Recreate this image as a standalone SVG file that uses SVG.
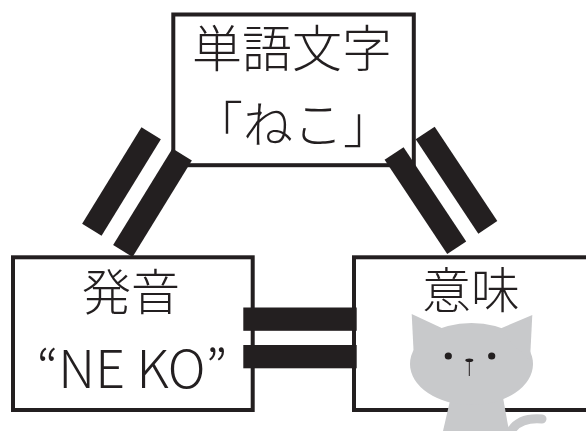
<svg xmlns="http://www.w3.org/2000/svg" width="586" height="431" viewBox="0 0 586 431">
  <style>
    .box { fill: #ffffff; stroke: #231f20; stroke-width: 4; }
    .jp { font-family: "Noto Sans CJK JP", "Noto Sans", sans-serif; font-weight: 300; fill: #231f20; text-anchor: middle; }
    .bar { fill: #231f20; }
    .cat { fill: #c8c9cb; }
    .feature { fill: #231f20; }
  </style>
  <rect width="586" height="431" fill="#ffffff"/>

  <!-- word / written form -->
  <g id="node-word">
    <rect class="box" x="173.3" y="14.5" width="240.5" height="150.7"/>
    <text class="jp" x="292" y="67" font-size="50">単語文字</text>
    <text class="jp" x="293" y="143" font-size="50">「ねこ」</text>
  </g>

  <!-- pronunciation -->
  <g id="node-sound">
    <rect class="box" x="13" y="257.3" width="239.7" height="152.7"/>
    <text class="jp" x="131" y="310" font-size="49">発音</text>
    <text class="jp" x="132" y="388" font-size="52">“NE KO”</text>
  </g>

  <!-- meaning -->
  <g id="node-meaning">
    <rect class="box" x="354" y="257.3" width="260" height="152.7"/>
    <text class="jp" x="471" y="308" font-size="49">意味</text>
    <g id="cat">
      <path d="M510,433 Q518,417 542,419" fill="none" stroke="#c8c9cb" stroke-width="9" stroke-linecap="round"/>
      <polygon class="cat" points="452,392 502,392 509,431 443,431"/>
      <ellipse class="cat" cx="471.5" cy="364" rx="61.5" ry="41"/>
      <polygon class="cat" points="411.7,314 446,330 414,360"/>
      <polygon class="cat" points="532.3,315 497,330 530,360"/>
      <circle class="feature" cx="448.3" cy="356" r="3.6"/>
      <circle class="feature" cx="491.7" cy="356" r="3.6"/>
      <ellipse class="feature" cx="469.3" cy="360.3" rx="4" ry="1.8"/>
      <line x1="469.3" y1="361" x2="469.3" y2="376" stroke="#231f20" stroke-width="1"/>
    </g>
  </g>

  <!-- equality bars between the three nodes -->
  <g id="connectors">
    <rect class="bar" x="-11.4" y="-56.6" width="22.8" height="113.2" transform="translate(121.5 181.5) rotate(31.6)"/>
    <rect class="bar" x="-11.4" y="-56.6" width="22.8" height="113.2" transform="translate(152.5 202.8) rotate(31.6)"/>
    <rect class="bar" x="-11.4" y="-56.6" width="22.8" height="113.2" transform="translate(425.4 200.6) rotate(-33.6)"/>
    <rect class="bar" x="-11.4" y="-56.6" width="22.8" height="113.2" transform="translate(456.5 180.2) rotate(-33.6)"/>
    <rect class="bar" x="243.3" y="307.5" width="113.4" height="23.3"/>
    <rect class="bar" x="243.3" y="345" width="113.4" height="23.3"/>
  </g>
</svg>
